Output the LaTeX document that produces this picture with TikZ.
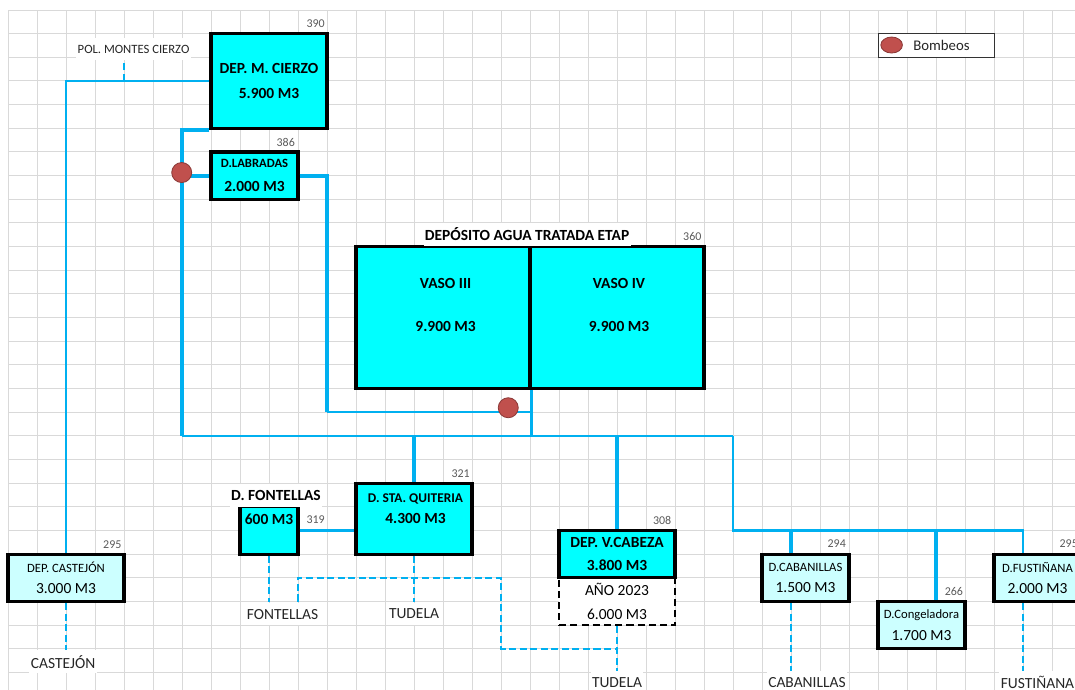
\documentclass[tikz,border=0pt]{standalone}
\usepackage{fontspec}
\setmainfont{Carlito}
\usepackage{tikz}
\usetikzlibrary{shapes.geometric, positioning, calc}
\definecolor{tankcyan}{RGB}{0,255,255}
\definecolor{tanklight}{RGB}{204,255,255}
\definecolor{pipeblue}{RGB}{0,176,240}
\definecolor{pumpred}{RGB}{192,80,77}
\definecolor{pumpedge}{RGB}{140,58,56}
\definecolor{gridgray}{RGB}{217,217,217}
\definecolor{lbltext}{RGB}{38,38,38}
\definecolor{elevgray}{RGB}{89,89,89}
\newcommand{\colw}{0.725cm}
\newcommand{\rowh}{0.5915cm}
\tikzset{
  tank/.style={rectangle, draw=black, fill=tankcyan, line width=2.2pt,
    inner sep=0pt, align=center, font=\fontsize{11}{13}\selectfont\bfseries},
  lighttank/.style={tank, fill=tanklight, font=\fontsize{11}{13}\selectfont},
  newtank/.style={rectangle, draw=black, fill=white, line width=1.5pt,
    dash pattern=on 5pt off 3pt, inner sep=0pt, align=center,
    font=\fontsize{11}{13}\selectfont},
  pump/.style={circle, draw=pumpedge, fill=pumpred, minimum size=0.5cm,
    inner sep=0pt, line width=0.6pt},
  pumpmark/.style={ellipse, draw=pumpedge, fill=pumpred, minimum width=0.54cm,
    minimum height=0.4cm, inner sep=0pt, line width=0.6pt},
  legendbox/.style={rectangle, draw=black!80, fill=white, line width=0.6pt,
    minimum width=4*\colw, minimum height=\rowh},
  pipe/.style={color=pipeblue, line width=1.8pt},
  bigpipe/.style={color=pipeblue, line width=2.7pt},
  outlet/.style={color=pipeblue, line width=1.4pt, dash pattern=on 5pt off 2.5pt},
  gridline/.style={color=gridgray, line width=0.7pt},
  lbl/.style={fill=white, inner xsep=1pt, inner ysep=0pt,
    minimum height=0.96*\rowh, text=lbltext, font=\fontsize{11}{13}\selectfont},
  boxtxt/.style={inner sep=0pt, align=center, font=\fontsize{11}{13}\selectfont\bfseries},
  elev/.style={anchor=east, inner sep=0pt, text=elevgray,
    font=\fontsize{8.5}{10}\selectfont}
}
\begin{document}
\begin{tikzpicture}[x=\colw, y=-\rowh]
  \useasboundingbox (-0.276,-0.423) rectangle (36.793,28.74);
  \clip (-0.276,-0.423) rectangle (36.793,28.74);
  % sheet grid
  \foreach \c in {0,...,37} \draw[gridline] (\c,0) -- (\c,29);
  \foreach \r in {0,...,29} \draw[gridline] (0,\r) -- (37,\r);

  % tanks
  \node[tank, minimum width=4*\colw, minimum height=4*\rowh] (cierzo) at (9,3)
    {DEP. M. CIERZO\\[4.8pt]5.900 M3};
  \node[tank, minimum width=3*\colw, minimum height=2*\rowh] (labradas) at (8.5,7)
    {{\fontsize{9}{11}\selectfont D.LABRADAS}\\[4.2pt]2.000 M3};
  \node[tank, minimum width=6*\colw, minimum height=6*\rowh] (vaso3) at (15,13) {};
  \node[tank, minimum width=6*\colw, minimum height=6*\rowh] (vaso4) at (21,13) {};
  \node[boxtxt] (vaso3-txt) at (15.09,12.47) {VASO III\\[18pt]9.900 M3};
  \node[boxtxt] (vaso4-txt) at (21.07,12.47) {VASO IV\\[18pt]9.900 M3};
  \node[lbl, text=black, font=\fontsize{11}{13}\selectfont\bfseries] (etap-title)
    at (17.9,9.49) {DEPÓSITO AGUA TRATADA ETAP};
  \node[tank, minimum width=2*\colw, minimum height=2*\rowh] (fontellas) at (9,22) {};
  \node[boxtxt] (fontellas-txt) at (9,21.53) {600 M3};
  \node[lbl, text=black, font=\fontsize{11}{13}\selectfont\bfseries] (fontellas-title)
    at (9.24,20.53) {D. FONTELLAS};
  \node[tank, minimum width=4*\colw, minimum height=3*\rowh] (quiteria) at (14,21.5) {};
  \node[boxtxt] (quiteria-txt) at (14.05,21.07)
    {{\fontsize{9.5}{11}\selectfont D. STA. QUITERIA}\\[2pt]4.300 M3};
  \node[newtank, minimum width=4*\colw, minimum height=2*\rowh] (ano) at (21,25)
    {AÑO 2023\\[4.6pt]6.000 M3};
  \node[tank, minimum width=4*\colw, minimum height=2*\rowh] (vcabeza) at (21,23)
    {DEP. V.CABEZA\\[3pt]3.800 M3};
  \node[lighttank, minimum width=4*\colw, minimum height=2*\rowh] (castejon) at (2,24)
    {{\fontsize{9}{11}\selectfont DEP. CASTEJÓN}\\[2.3pt]3.000 M3};
  \node[lighttank, minimum width=3*\colw, minimum height=2*\rowh] (cabanillas) at (27.5,24)
    {{\fontsize{9}{11}\selectfont D.CABANILLAS}\\[2.4pt]1.500 M3};
  \node[lighttank, minimum width=3*\colw, minimum height=2*\rowh] (congeladora) at (31.5,26)
    {{\fontsize{9}{11}\selectfont D.Congeladora}\\[2.3pt]1.700 M3};
  \node[lighttank, minimum width=3*\colw, minimum height=2*\rowh] (fustinana) at (35.5,24)
    {{\fontsize{9}{11}\selectfont D.FUSTIÑANA}\\[2.4pt]2.000 M3};

  % elevations
  \node[elev] (cierzo-z) at (10.93,0.59) {390};
  \node[elev] (labradas-z) at (9.9,5.59) {386};
  \node[elev] (etap-z) at (23.92,9.57) {360};
  \node[elev] (castejon-z) at (3.92,22.6) {295};
  \node[elev] (fontellas-z) at (10.93,21.56) {319};
  \node[elev] (quiteria-z) at (15.93,19.6) {321};
  \node[elev] (vcabeza-z) at (22.88,21.58) {308};
  \node[elev] (cabanillas-z) at (28.9,22.56) {294};
  \node[elev] (congeladora-z) at (32.94,24.58) {266};
  \node[elev] (fustinana-z) at (36.9,22.56) {295};

  % place names
  \node[lbl, font=\fontsize{9}{11}\selectfont] (polmc) at (4.33,1.65) {POL. MONTES CIERZO};
  \node[lbl] (castejon-lbl) at (1.9,27.55) {CASTEJÓN};
  \node[lbl] (fontellas-lbl) at (9.47,25.53) {FONTELLAS};
  \node[lbl] (quiteria-lbl) at (14,25.53) {TUDELA};
  \node[lbl] (vcabeza-lbl) at (21,28.43) {TUDELA};
  \node[lbl] (cabanillas-lbl) at (27.55,28.43) {CABANILLAS};
  \node[lbl] (fustinana-lbl) at (35.5,28.43) {FUSTIÑANA};

  % pipes
  \coordinate (pol-tap) at (4,3);
  \coordinate (trunk-w) at (6,18);
  \coordinate (trunk-e) at (25,18);
  \coordinate (lab-drop) at (11,17);
  \coordinate (etap-in) at (18,17);
  \coordinate (cab-tap) at (27,22);
  \coordinate (cong-tap) at (32,22);
  \coordinate (fust-tap) at (35,22);
  \draw[pipe] (cierzo.west) -| (castejon.north);
  \draw[outlet] (pol-tap) -- (pol-tap |- polmc.south);
  \draw[bigpipe] (cierzo.south west) -| (trunk-w);
  \draw[bigpipe] (labradas.west) -- (labradas.west -| trunk-w);
  \draw[bigpipe] (labradas.east) -| (lab-drop);
  \draw[pipe] (lab-drop) -- (etap-in);
  \draw[pipe] (vaso3.south east) -- (vaso3.south east |- trunk-w);
  \draw[pipe] (trunk-w) -- (trunk-e);
  \draw[pipe] (trunk-e) |- (fust-tap) -- (fust-tap |- fustinana.north);
  \draw[bigpipe] (quiteria.north |- trunk-w) -- (quiteria.north);
  \draw[bigpipe] (vcabeza.north |- trunk-w) -- (vcabeza.north);
  \draw[bigpipe] (cab-tap) -- (cab-tap |- cabanillas.north);
  \draw[bigpipe] (cong-tap) -- (cong-tap |- congeladora.north);
  \draw[pipe] (fontellas.east) -- (fontellas.east -| quiteria.west);

  % supply outlets
  \coordinate (loop-start) at (10,25);
  \coordinate (loop-turn) at (17,24);
  \coordinate (loop-join) at (21,27);
  \draw[outlet] (castejon.south) -- (castejon.south |- castejon-lbl.north);
  \draw[outlet] (fontellas.south) -- (fontellas.south |- fontellas-lbl.north);
  \draw[outlet] (quiteria.south) -- (quiteria-lbl.north);
  \draw[outlet] (loop-start) |- (loop-turn) |- (loop-join);
  \draw[outlet] (ano.south) -- (vcabeza-lbl.north);
  \draw[outlet] (cab-tap |- cabanillas.south) -- (cab-tap |- cabanillas-lbl.north);
  \draw[outlet] (fust-tap |- fustinana.south) -- (fust-tap |- fustinana-lbl.north);

  % pumps
  \node[pump] (pump1) at (5.99,6.87) {};
  \node[pump] (pump2) at (17.25,16.81) {};

  % legend
  \node[legendbox] (legend) at (32,1.5) {};
  \node[pumpmark] (legend-pump) at (30.47,1.48) {};
  \node[lbl, fill=none, anchor=west, font=\fontsize{10.5}{12}\selectfont] (legend-txt)
    at (31.16,1.5) {Bombeos};
\end{tikzpicture}
\end{document}
